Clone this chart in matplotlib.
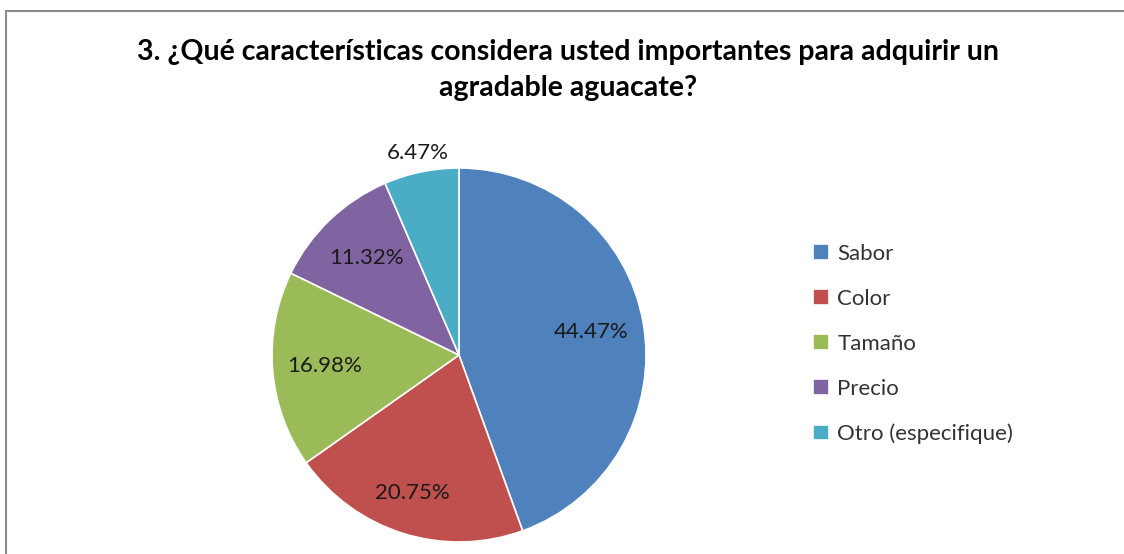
import matplotlib.pyplot as plt
from matplotlib.patches import Rectangle

categories = ['Sabor', 'Color', 'Tamaño', 'Precio', 'Otro (especifique)']
values = [44.47, 20.75, 16.98, 11.32, 6.47]
colors = ['#4F81BD', '#C0504D', '#9BBB59', '#8064A2', '#4BACC6']

plt.rcParams['font.family'] = ['Lato', 'DejaVu Sans']

fig = plt.figure(figsize=(11.24, 5.54), dpi=100)

# frame around chart area
fig.add_artist(Rectangle((6 / 1124, -0.05), 1.2, (554 - 11) / 554 + 0.05,
                         transform=fig.transFigure, fill=False,
                         edgecolor='#8c8c8c', linewidth=1.5))

fig.text(568 / 1124, 1 - 52 / 554,
         '3. ¿Qué características considera usted importantes para adquirir un',
         ha='center', va='center', fontsize=20.5, fontweight='bold')
fig.text(568 / 1124, 1 - 88 / 554, 'agradable aguacate?',
         ha='center', va='center', fontsize=20.5, fontweight='bold')

ax = fig.add_axes([272 / 1124, 12 / 554, 374 / 1124, 374 / 554])
wedges, texts, autotexts = ax.pie(
    values, colors=colors, startangle=90, counterclock=False,
    autopct=lambda p: '%.2f%%' % p, pctdistance=0.72,
    wedgeprops=dict(edgecolor='white', linewidth=1.2),
    textprops=dict(fontsize=16, color='#1a1a1a'))
ax.set_aspect('equal')
ax.set_xlim(-1, 1)
ax.set_ylim(-1, 1)

# the small slice label sits outside the pie
autotexts[-1].set_position((-0.22, 1.08))
autotexts[1].set_position((-0.25, -0.74))

ax.legend(wedges, categories, loc='center left',
          bbox_to_anchor=(793 / 1124, 1 - 344 / 554),
          bbox_transform=fig.transFigure, frameon=False,
          fontsize=16, handlelength=0.7, handleheight=0.7,
          labelspacing=1.12, handletextpad=0.4, labelcolor='#333333')

fig.savefig('out.png', dpi=100)
